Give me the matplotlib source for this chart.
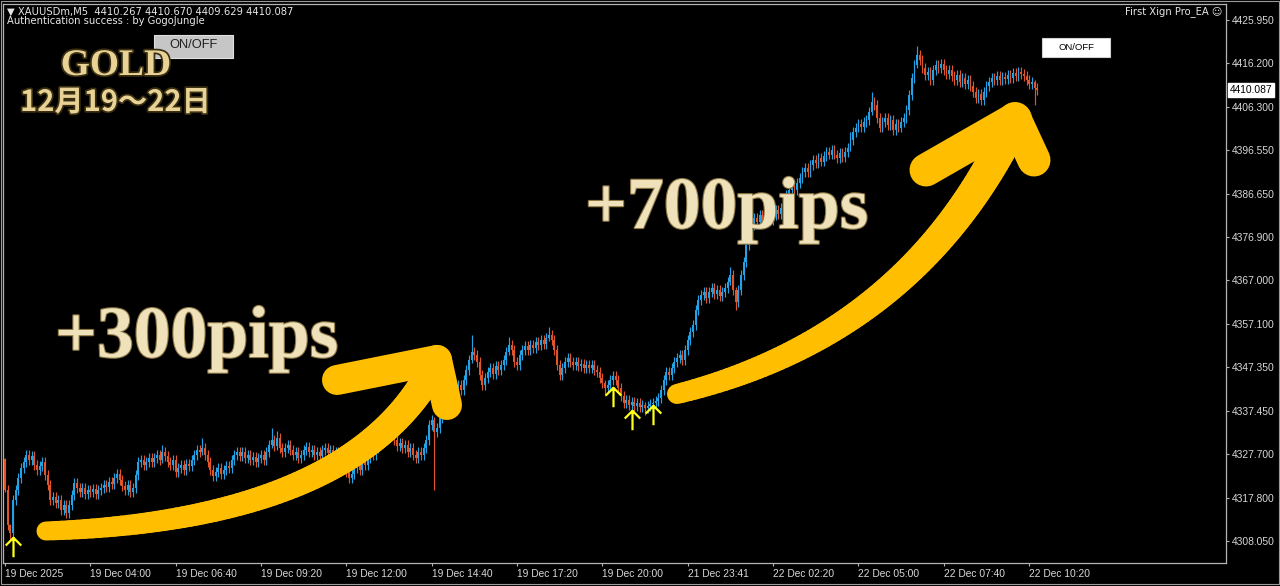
import numpy as np
import matplotlib
matplotlib.use('Agg')
import matplotlib.pyplot as plt
from matplotlib.collections import LineCollection
from matplotlib.patches import Rectangle
from matplotlib.path import Path
import matplotlib.patheffects as pe
import matplotlib.transforms as mtransforms

# ---------------- data (M5 candles) ----------------
first_open = 4326.5
closes = [
    4319.6, 4311.7, 4309.9, 4317.3, 4319.6, 4322.3, 4324.6, 4325.9, 4327.5, 4326.4,
    4327.3, 4325.2, 4324.1, 4325.0, 4325.9, 4323.0, 4320.7, 4317.3, 4318.0, 4316.6,
    4317.3, 4315.1, 4316.2, 4314.4, 4316.2, 4318.5, 4321.2, 4320.1, 4319.2, 4320.1,
    4318.7, 4319.6, 4319.2, 4319.9, 4318.7, 4319.6, 4320.1, 4320.7, 4320.3, 4321.4,
    4320.9, 4322.3, 4323.2, 4321.9, 4320.5, 4319.6, 4320.7, 4319.2, 4320.1, 4323.0,
    4325.9, 4326.4, 4325.2, 4325.9, 4326.8, 4325.9, 4326.8, 4327.5, 4326.4, 4328.2,
    4327.3, 4325.9, 4325.2, 4326.4, 4323.7, 4324.6, 4325.2, 4324.1, 4325.5, 4325.0,
    4326.4, 4327.5, 4328.6, 4328.2, 4329.1, 4327.5, 4325.9, 4324.1, 4322.8, 4323.7,
    4324.6, 4323.2, 4324.1, 4325.0, 4324.6, 4326.4, 4327.5, 4328.2, 4327.3, 4328.2,
    4326.8, 4327.5, 4326.4, 4327.1, 4325.9, 4326.8, 4327.5, 4326.4, 4328.2, 4329.8,
    4330.9, 4329.5, 4331.4, 4329.1, 4328.2, 4329.1, 4329.8, 4328.6, 4327.5, 4328.2,
    4326.8, 4327.5, 4328.6, 4329.3, 4328.2, 4328.6, 4327.5, 4328.2, 4327.3, 4328.6,
    4329.1, 4327.9, 4328.6, 4327.5, 4328.2, 4326.8, 4326.4, 4325.0, 4323.7, 4322.3,
    4323.2, 4324.6, 4325.2, 4324.1, 4325.9, 4325.2, 4326.8, 4328.2, 4327.5, 4329.1,
    4330.5, 4331.8, 4333.2, 4331.4, 4333.6, 4332.0, 4330.9, 4329.5, 4330.2, 4329.1,
    4329.8, 4328.2, 4329.1, 4327.5, 4326.8, 4328.2, 4327.5, 4329.1, 4330.9, 4334.3,
    4335.4, 4332.7, 4333.6, 4335.9, 4337.7, 4339.5, 4341.1, 4341.8, 4342.7, 4341.8,
    4343.4, 4342.3, 4344.5, 4346.8, 4349.0, 4350.8, 4350.1, 4348.6, 4345.6, 4343.4,
    4345.0, 4346.3, 4347.2, 4345.9, 4347.7, 4346.8, 4347.9, 4349.0, 4350.8, 4352.4,
    4351.3, 4348.6, 4347.9, 4350.1, 4351.3, 4352.2, 4351.3, 4352.4, 4351.7, 4353.1,
    4352.4, 4353.5, 4352.6, 4354.0, 4354.7, 4353.5, 4351.3, 4347.9, 4345.6, 4347.2,
    4348.6, 4349.5, 4348.6, 4347.9, 4348.6, 4347.7, 4348.1, 4347.2, 4347.9, 4347.2,
    4347.9, 4346.8, 4346.3, 4345.0, 4343.8, 4342.7, 4343.4, 4344.5, 4345.4, 4344.5,
    4342.7, 4340.9, 4339.3, 4340.0, 4338.9, 4339.5, 4338.6, 4339.3, 4338.4, 4338.9,
    4338.2, 4338.6, 4339.1, 4339.3, 4339.8, 4340.4, 4342.2, 4344.5, 4346.3, 4345.6,
    4347.2, 4348.6, 4349.5, 4350.1, 4349.0, 4351.3, 4353.5, 4355.4, 4356.9, 4360.3,
    4362.6, 4363.7, 4364.4, 4363.0, 4364.4, 4365.3, 4363.9, 4364.8, 4363.4, 4364.4,
    4365.3, 4366.7, 4368.2, 4364.8, 4362.1, 4364.8, 4368.2, 4371.2, 4375.0, 4377.3,
    4379.6, 4381.1, 4380.2, 4381.8, 4380.2, 4381.1, 4382.5, 4380.7, 4381.8, 4383.0,
    4382.0, 4383.4, 4385.2, 4386.3, 4387.5, 4388.4, 4387.5, 4389.1, 4390.2, 4391.6,
    4392.5, 4391.6, 4393.2, 4394.3, 4393.6, 4394.8, 4393.9, 4395.2, 4396.1, 4395.5,
    4396.5, 4395.5, 4394.8, 4395.9, 4395.0, 4396.1, 4397.0, 4398.8, 4400.6, 4401.6,
    4402.4, 4401.8, 4402.9, 4403.3, 4405.1, 4407.4, 4406.7, 4403.8, 4401.6, 4402.9,
    4403.8, 4402.2, 4403.3, 4401.1, 4402.4, 4401.6, 4402.9, 4403.8, 4405.6, 4409.0,
    4412.8, 4415.8, 4418.0, 4416.9, 4415.1, 4413.5, 4414.2, 4412.4, 4414.6, 4415.8,
    4415.1, 4416.0, 4414.6, 4413.7, 4414.6, 4413.3, 4412.4, 4413.5, 4411.9, 4412.8,
    4411.5, 4412.4, 4411.0, 4409.6, 4408.3, 4409.2, 4407.9, 4409.6, 4411.0, 4411.9,
    4412.8, 4412.4, 4413.3, 4412.4, 4413.0, 4412.6, 4413.5, 4412.8, 4414.0, 4413.3,
    4414.2, 4413.7, 4413.3, 4412.4, 4411.5, 4411.9, 4410.6, 4410.087,
]
wick_default = 1.1
long_wicks = {  # bar index: (upper wick, lower wick)
    0: (0.4, 0.5), 2: (0.3, 1.3), 59: (1.6, 0.7), 74: (2.2, 0.7), 100: (2.8, 0.7),
    102: (1.5, 0.8), 144: (1.8, 0.8), 161: (0.6, 13.1), 175: (3.8, 0.7), 189: (1.7, 0.7),
    204: (1.8, 0.7), 225: (0.7, 1.8), 240: (0.7, 1.7), 272: (1.9, 0.8), 274: (0.8, 1.8),
    317: (1.8, 0.8), 325: (2.2, 0.7), 342: (2.1, 0.7), 386: (0.5, 3.8),
}
signal_bars = [3, 228, 235, 243]
signal_prices = [4306.7, 4340.6, 4335.4, 4336.6]

tick_bars = [0, 32, 64, 96, 128, 160, 192, 224, 256, 288, 320, 352, 384]
tick_labels = ["19 Dec 2025", "19 Dec 04:00", "19 Dec 06:40", "19 Dec 09:20",
               "19 Dec 12:00", "19 Dec 14:40", "19 Dec 17:20", "19 Dec 20:00",
               "21 Dec 23:41", "22 Dec 02:20", "22 Dec 05:00", "22 Dec 07:40",
               "22 Dec 10:20"]
price_ticks = [4425.950, 4416.200, 4406.300, 4396.550, 4386.650, 4376.900, 4367.000,
               4357.100, 4347.350, 4337.450, 4327.700, 4317.800, 4308.050]
last_price = 4410.087

# ---------------- figure ----------------
W, H = 1280, 586
fig = plt.figure(figsize=(12.8, 5.86), dpi=100, facecolor='black')
L, R, T, B = 3, 1226, 4, 563
ax = fig.add_axes([L / W, 1 - B / H, (R - L) / W, (B - T) / H])
ax.set_facecolor('black')

UP, DN = '#23a3e6', '#e2552b'
c = np.array(closes)
o = np.concatenate([[first_open], c[:-1]])
n = len(c)
idx = np.arange(n)
up_w = np.full(n, wick_default)
dn_w = np.full(n, wick_default)
for k, (u, d) in long_wicks.items():
    up_w[k], dn_w[k] = u, d
hi = np.maximum(o, c) + up_w
lo = np.minimum(o, c) - dn_w
cols = np.where(c >= o, UP, DN)

ax.vlines(idx, lo, hi, colors=cols, linewidth=0.85, zorder=2)
body = np.maximum(np.abs(c - o), 0.25)
ax.bar(idx, body, bottom=np.minimum(o, c), width=0.72, color=cols, linewidth=0, zorder=3)

# signal arrows
arrow_path = Path([(0, -1), (0, 1), (-0.8, 0.2), (0, 1), (0.8, 0.2)],
                  [Path.MOVETO, Path.LINETO, Path.MOVETO, Path.LINETO, Path.LINETO])
ax.plot(signal_bars, signal_prices, linestyle='none', marker=arrow_path, markersize=14,
        markerfacecolor='none', markeredgecolor='#ffff1a', markeredgewidth=1.6, zorder=4)

ax.set_xlim(-0.75, 457.8)
ax.set_ylim(4303.07, 4429.57)

for s in ax.spines.values():
    s.set_color('#b4b4b4')
    s.set_linewidth(0.9)

ax.yaxis.tick_right()
ax.set_yticks(price_ticks)
ax.set_yticklabels([f"{p:.3f}" for p in price_ticks])
ax.set_xticks(tick_bars)
ax.set_xticklabels(tick_labels)
for lab in ax.get_xticklabels():
    lab.set_ha('left')
ax.tick_params(axis='both', colors='#b4b4b4', labelcolor='#d8d8d8', labelsize=7.4,
               length=2.5, width=0.8, pad=2)
for lab in ax.get_xticklabels() + ax.get_yticklabels():
    lab.set_fontfamily('Liberation Sans')

# current price label
tr = mtransforms.blended_transform_factory(ax.transAxes, ax.transData)
ax.text(1.0028, last_price, f"{last_price:.3f}", transform=tr, ha='left', va='center',
        fontsize=7.4, family='Liberation Sans', color='black',
        bbox=dict(boxstyle='square,pad=0.18', fc='white', ec='white'), zorder=5, clip_on=False)

# ---------------- overlay (decorations in pixel space) ----------------
ov = fig.add_axes([0, 0, 1, 1], zorder=10)
ov.set_xlim(0, W)
ov.set_ylim(H, 0)
ov.axis('off')
ov.patch.set_alpha(0)

ov.add_patch(Rectangle((0.5, 0.5), W - 1.5, H - 3, fill=False, ec='#9a9a9a', lw=0.8))

ov.text(7, 12, "\u25bc XAUUSDm,M5  4410.267 4410.670 4409.629 4410.087", fontsize=7.2,
        family='DejaVu Sans', color='#e6e6e6', va='center', ha='left')
ov.text(7, 21, "Authentication success : by GogoJungle", fontsize=7.2,
        family='DejaVu Sans', color='#e6e6e6', va='center', ha='left')
ov.text(1222, 12, "First Xign Pro_EA \u263a", fontsize=7.2, family='DejaVu Sans',
        color='#e6e6e6', va='center', ha='right')

# buttons
ov.add_patch(Rectangle((154, 35), 79, 23, fc='#c6c6c6', ec='#e0e0e0', lw=0.8, zorder=1))
ov.text(193.5, 45, "ON/OFF", fontsize=9.3, family='Liberation Sans', color='#202020',
        ha='center', va='center', zorder=2)
ov.add_patch(Rectangle((1042, 38), 68, 19, fc='white', ec='#d0d0d0', lw=0.8, zorder=1))
ov.text(1076, 47.5, "ON/OFF", fontsize=6.8, family='Liberation Sans', color='black',
        ha='center', va='center', zorder=2)

gold_fx = [pe.withStroke(linewidth=2.5, foreground='#3b2f12')]
ov.text(116, 75, "GOLD", fontsize=27, family='Liberation Serif', weight='bold',
        color='#e8d295', ha='center', va='baseline', path_effects=gold_fx, zorder=3)
ov.text(20, 111, "12月19～22日", fontsize=21, family=['Noto Sans CJK JP', 'DejaVu Sans'],
        weight='bold', color='#e8d295', ha='left', va='baseline', path_effects=gold_fx, zorder=3)

big_fx = [pe.withStroke(linewidth=1.6, foreground='#8c7644')]
ov.text(55, 357, "+300pips", fontsize=53, family='Liberation Serif', weight='bold',
        color='#efe2bb', ha='left', va='baseline', path_effects=big_fx, zorder=3)
ov.text(585, 228, "+700pips", fontsize=53, family='Liberation Serif', weight='bold',
        color='#efe2bb', ha='left', va='baseline', path_effects=big_fx, zorder=3)

# hand-drawn style arrows
ARW = '#ffbe00'


def bez(p0, p1, p2, num=80):
    t = np.linspace(0, 1, num)[:, None]
    return (1 - t) ** 2 * np.array(p0) + 2 * (1 - t) * t * np.array(p1) + t ** 2 * np.array(p2)


def brush(p0, p1, p2, w0, w1):
    pts = bez(p0, p1, p2)
    segs = np.stack([pts[:-1], pts[1:]], axis=1)
    lw = np.linspace(w0, w1, len(segs)) * 0.72
    ov.add_collection(LineCollection(segs, linewidths=lw, colors=ARW,
                                     capstyle='round', joinstyle='round', zorder=4))


brush((46, 531), (360, 520), (437, 360), 19, 30)
ov.plot([337, 437, 447], [380, 360, 405], color=ARW, lw=30 * 0.72,
        solid_capstyle='round', solid_joinstyle='round', zorder=4)

brush((677, 394), (915, 335), (1015, 119), 20, 34)
ov.plot([926, 1015, 1034], [170, 119, 160], color=ARW, lw=33 * 0.72,
        solid_capstyle='round', solid_joinstyle='round', zorder=4)

fig.savefig('out.png', dpi=100, facecolor='black')
